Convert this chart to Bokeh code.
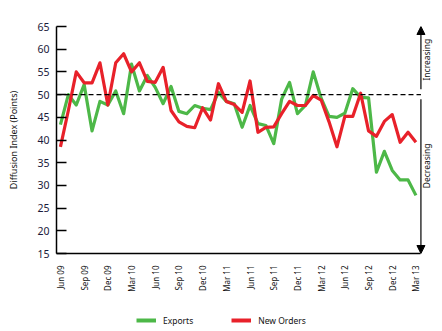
import math
from bokeh.plotting import figure
from bokeh.layouts import column
from bokeh.models import (Range1d, FixedTicker, Arrow, NormalHead, Label,
                          Legend, LegendItem, ColumnDataSource)
from bokeh.embed import file_html
from bokeh.resources import INLINE

# ---- data ----
months = ["Jun 09", "Jul 09", "Aug 09", "Sep 09", "Oct 09", "Nov 09", "Dec 09", "Jan 10",
          "Feb 10", "Mar 10", "Apr 10", "May 10", "Jun 10", "Jul 10", "Aug 10", "Sep 10",
          "Oct 10", "Nov 10", "Dec 10", "Jan 11", "Feb 11", "Mar 11", "Apr 11", "May 11",
          "Jun 11", "Jul 11", "Aug 11", "Sep 11", "Oct 11", "Nov 11", "Dec 11", "Jan 12",
          "Feb 12", "Mar 12", "Apr 12", "May 12", "Jun 12", "Jul 12", "Aug 12", "Sep 12",
          "Oct 12", "Nov 12", "Dec 12", "Jan 13", "Feb 13", "Mar 13"]

exports = [43.4, 50.0, 47.7, 52.2, 42.0, 48.5, 47.7, 50.8, 45.8, 56.7,
           50.8, 54.2, 51.6, 48.0, 51.8, 46.3, 45.8, 47.6, 47.0, 46.7,
           50.5, 48.5, 48.0, 42.8, 47.6, 43.6, 43.2, 39.2, 49.0, 52.7,
           45.8, 47.6, 55.0, 49.2, 45.2, 45.0, 45.9, 51.3, 49.4, 49.3,
           32.9, 37.5, 33.3, 31.2, 31.2, 27.8]

new_orders = [38.5, 46.5, 55.0, 52.6, 52.6, 57.0, 47.7, 57.0, 59.0, 55.0,
              57.0, 52.9, 52.7, 56.0, 46.5, 44.0, 43.0, 42.7, 47.1, 44.4,
              52.4, 48.5, 47.8, 46.1, 53.0, 41.7, 42.8, 42.9, 45.8, 48.5,
              47.6, 47.6, 49.8, 48.8, 44.0, 38.5, 45.2, 45.2, 50.3, 42.0,
              40.8, 44.1, 45.6, 39.5, 41.7, 39.5]

y_ticks = [15, 20, 25, 30, 35, 40, 45, 50, 55, 60, 65]
threshold = 50
tick_step = 3

GREEN = "#4DB848"
RED = "#E8212A"
FONT = "Noto Sans"

x = list(range(len(months)))
src = ColumnDataSource(dict(x=x, exports=exports, new_orders=new_orders))

x_start = -0.5
axis_end = len(months) - 1 + 0.63          # where the x axis stops
px_per_month = 7.9
frame_w = 442 - 56 - 2
range_end = x_start + frame_w / px_per_month

MAIN_H = 300
LEG_H = 331 - MAIN_H

p = figure(width=442, height=MAIN_H, output_backend="svg", toolbar_location=None,
           x_range=Range1d(x_start, range_end), y_range=Range1d(y_ticks[0], y_ticks[-1]),
           min_border_left=56, min_border_right=2, min_border_top=26,
           min_border_bottom=MAIN_H - 253)
p.outline_line_color = None
p.grid.visible = False
p.background_fill_color = "white"
p.border_fill_color = "white"

p.line("x", "exports", source=src, line_width=3.2, color=GREEN, line_join="round")
p.line("x", "new_orders", source=src, line_width=3.2, color=RED, line_join="round")

# reference line at 50, stopping at the axis end
p.segment(x0=[x_start], y0=[threshold], x1=[axis_end], y1=[threshold],
          line_color="black", line_dash="5 3", line_width=1.3)

# x axis
tick_pos = x[::tick_step]
p.xaxis.bounds = (x_start, axis_end)
p.xaxis.ticker = FixedTicker(ticks=tick_pos)
p.xaxis.major_label_overrides = {i: months[i] for i in tick_pos}
p.xaxis.major_label_orientation = math.pi / 2
p.xaxis.major_tick_line_color = None
p.xaxis.minor_tick_line_color = None
p.xaxis.axis_line_width = 1.5
p.xaxis.axis_line_color = "black"
p.xaxis.major_label_text_font = FONT
p.xaxis.major_label_text_font_size = "8px"
p.xaxis.major_label_text_color = "#111111"
p.xaxis.major_label_standoff = 6

# y axis
p.yaxis.ticker = FixedTicker(ticks=y_ticks)
p.yaxis.major_tick_in = 10
p.yaxis.major_tick_out = 0
p.yaxis.major_tick_line_width = 1.3
p.yaxis.minor_tick_line_color = None
p.yaxis.axis_line_width = 1.5
p.yaxis.axis_line_color = "black"
p.yaxis.major_label_text_font = FONT
p.yaxis.major_label_text_font_size = "10.5px"
p.yaxis.major_label_text_color = "#1a1a3a"
p.yaxis.major_label_standoff = 7
p.yaxis.axis_label = "Diffusion Index (Points)"
p.yaxis.axis_label_text_font = FONT
p.yaxis.axis_label_text_font_size = "9px"
p.yaxis.axis_label_text_font_style = "normal"
p.yaxis.axis_label_text_color = "#111111"
p.yaxis.axis_label_standoff = 14

# direction arrows
p.add_layout(Arrow(end=NormalHead(size=8, fill_color="black", line_color="black"),
                   x_start=axis_end, y_start=threshold + 1.2, x_end=axis_end, y_end=y_ticks[-1],
                   line_width=1.2, line_color="black"))
p.add_layout(Arrow(end=NormalHead(size=8, fill_color="black", line_color="black"),
                   x_start=axis_end, y_start=threshold - 1.0, x_end=axis_end, y_end=y_ticks[0],
                   line_width=1.2, line_color="black"))
p.add_layout(Label(x=axis_end + 0.75, y=57.7, text="Increasing", angle=math.pi / 2,
                   text_align="center", text_baseline="middle", text_font=FONT,
                   text_font_size="8.5px", text_color="#111111"))
p.add_layout(Label(x=axis_end + 0.75, y=34.3, text="Decreasing", angle=math.pi / 2,
                   text_align="center", text_baseline="middle", text_font=FONT,
                   text_font_size="8.5px", text_color="#111111"))

# ---- legend strip (same series, view range kept away from data) ----
lg = figure(width=442, height=LEG_H, output_backend="svg", toolbar_location=None,
            x_range=Range1d(-1000, -999), y_range=Range1d(-1000, -999),
            x_axis_location=None, y_axis_location=None, min_border=0)
lg.outline_line_color = None
lg.grid.visible = False
l_exp = lg.line("x", "exports", source=src, line_width=4, color=GREEN)
l_new = lg.line("x", "new_orders", source=src, line_width=4, color=RED)
legend = Legend(items=[LegendItem(label="Exports", renderers=[l_exp]),
                       LegendItem(label="New Orders", renderers=[l_new])],
                orientation="horizontal", location=(80, 5),
                glyph_width=20, glyph_height=12, label_standoff=7, spacing=38,
                padding=0, margin=0, border_line_color=None,
                background_fill_alpha=0, label_text_font=FONT,
                label_text_font_size="8.5px", label_text_color="#111111")
lg.add_layout(legend, "center")

layout = column(p, lg, spacing=0)
open("out.html", "w").write(file_html(layout, INLINE))
